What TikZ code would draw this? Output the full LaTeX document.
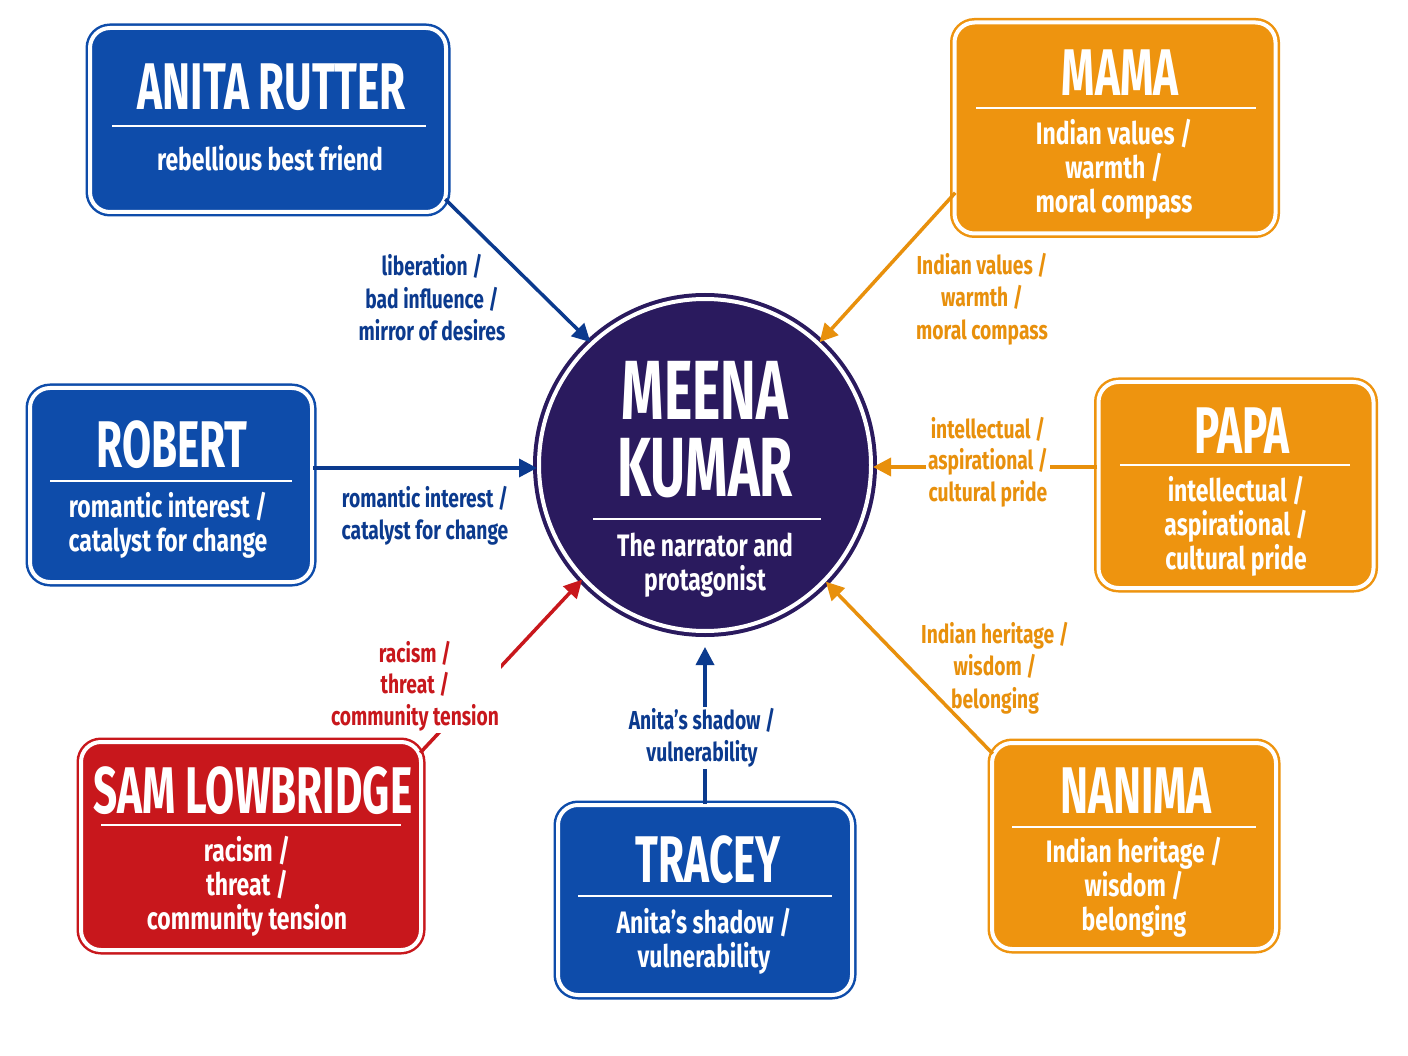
\documentclass[tikz,border=0pt]{standalone}
\usepackage{fontspec}
\setmainfont{Fira Sans}[FakeStretch=0.74]
\newfontfamily\ttlfont{Fira Sans}[FakeStretch=0.64]
\usetikzlibrary{arrows.meta}
\definecolor{cblue}{HTML}{0E4CAA}
\definecolor{tblue}{HTML}{0B3A8E}
\definecolor{corange}{HTML}{EE940F}
\definecolor{tor}{HTML}{E8900C}
\definecolor{cred}{HTML}{C8171C}
\definecolor{navy}{HTML}{2A1A5E}
\tikzset{
 cbox/.style={draw=#1,fill=#1,double=white,double distance=4pt,line width=2.5pt,rounded corners=20pt,inner sep=0pt},
 ttl/.style={white,font=\ttlfont\fontsize{66}{66}\selectfont\bfseries},
 sub/.style={white,font=\fontsize{31}{34}\selectfont\bfseries,align=center},
 lab/.style={text=#1,font=\fontsize{26}{31.5}\selectfont\bfseries,align=center,fill=white,inner sep=2pt},
 labn/.style={text=#1,font=\fontsize{26}{32.5}\selectfont\bfseries,align=center,inner sep=2pt},
 sep/.style={white,line width=2pt},
 arr/.style={line width=3.5pt,-{Triangle[length=18pt,width=18pt]}},
}
\begin{document}
\begin{tikzpicture}[x=1pt,y=-1pt]
\useasboundingbox[fill=white] (0,0) rectangle (1408,1056);
% center
\node[circle,draw=navy,fill=navy,double=white,double distance=4pt,line width=4pt,minimum size=332pt] (meena) at (705,465) {};
\node[white,font=\ttlfont\fontsize{84}{84}\selectfont\bfseries] (mt1) at (705,390) {MEENA};
\node[white,font=\ttlfont\fontsize{84}{84}\selectfont\bfseries] (mt2) at (705,468) {KUMAR};
\draw[sep] (593,519) -- (821,519);
\node[sub] (ms) at (705,565) {The narrator and\\protagonist};
% boxes
\node[cbox=cblue,minimum width=356pt,minimum height=184pt] (anita) at (268,120) {};
\node[ttl] at (272,87) {ANITA RUTTER};
\draw[sep] (112,126) -- (426,126);
\node[sub] at (270,158) {rebellious best friend};

\node[cbox=corange,minimum width=321pt,minimum height=211pt] (mama) at (1115,128) {};
\node[ttl] at (1120,73) {MAMA};
\draw[sep] (976,108) -- (1256,108);
\node[sub] at (1114,169) {Indian values /\\warmth /\\moral compass};

\node[cbox=cblue,minimum width=282pt,minimum height=194pt] (robert) at (171,485) {};
\node[ttl] at (172,445) {ROBERT};
\draw[sep] (50,481) -- (292,481);
\node[sub] at (168,525) {romantic interest /\\catalyst for change};

\node[cbox=corange,minimum width=275pt,minimum height=206pt] (papa) at (1236,485) {};
\node[ttl] at (1242,431) {PAPA};
\draw[sep] (1120,465) -- (1350,465);
\node[sub] at (1236,526) {intellectual /\\aspirational /\\cultural pride};

\node[cbox=cred,minimum width=340pt,minimum height=208pt] (sam) at (251,846) {};
\node[ttl] at (253,791) {SAM LOWBRIDGE};
\draw[sep] (101,825) -- (401,825);
\node[sub] at (247,886) {racism /\\threat /\\community tension};

\node[cbox=cblue,minimum width=294pt,minimum height=190pt] (tracey) at (705,900) {};
\node[ttl] at (708,860) {TRACEY};
\draw[sep] (578,896) -- (832,896);
\node[sub] at (704,941) {Anita's shadow /\\vulnerability};

\node[cbox=corange,minimum width=284pt,minimum height=206pt] (nanima) at (1134,846) {};
\node[ttl] at (1136,791) {NANIMA};
\draw[sep] (1012,827) -- (1256,827);
\node[sub] at (1134,887) {Indian heritage /\\wisdom /\\belonging};

% connectors
\draw[arr,tblue] (anita.south east) ++(-2,-14) coordinate (a1) -- (meena.133);
\node[labn=tblue] at (432,298) {liberation /\\bad influence /\\mirror of desires};
\draw[arr,tor] (mama.south west) ++(2,-42) coordinate (m1) -- (meena.47);
\node[labn=tor] at (982,299) {Indian values /\\warmth /\\moral compass};
\draw[arr,tblue] (robert.east) ++(0,-17) coordinate (r1) -- (meena.west |- r1);
\node[labn=tblue] at (425,516) {romantic interest /\\catalyst for change};
\draw[arr,tor] (papa.west) ++(0,-18) coordinate (p1) -- (meena.east |- p1);
\node[lab=tor] at (988,462) {intellectual /\\aspirational /\\cultural pride};
\draw[arr,cred] (sam.north east) ++(-2,12) coordinate (s1) -- (meena.223);
\node[lab=cred] at (415,686) {racism /\\threat /\\community tension};
\draw[arr,tblue] (tracey.north) -- ([yshift=-14pt]meena.south);
\node[lab=tblue] at (702,738) {Anita's shadow /\\vulnerability};
\draw[arr,tor] (nanima.north west) ++(2,12) coordinate (n1) -- (meena.316);
\node[labn=tor] at (995,668) {Indian heritage /\\wisdom /\\belonging};
\end{tikzpicture}
\end{document}
